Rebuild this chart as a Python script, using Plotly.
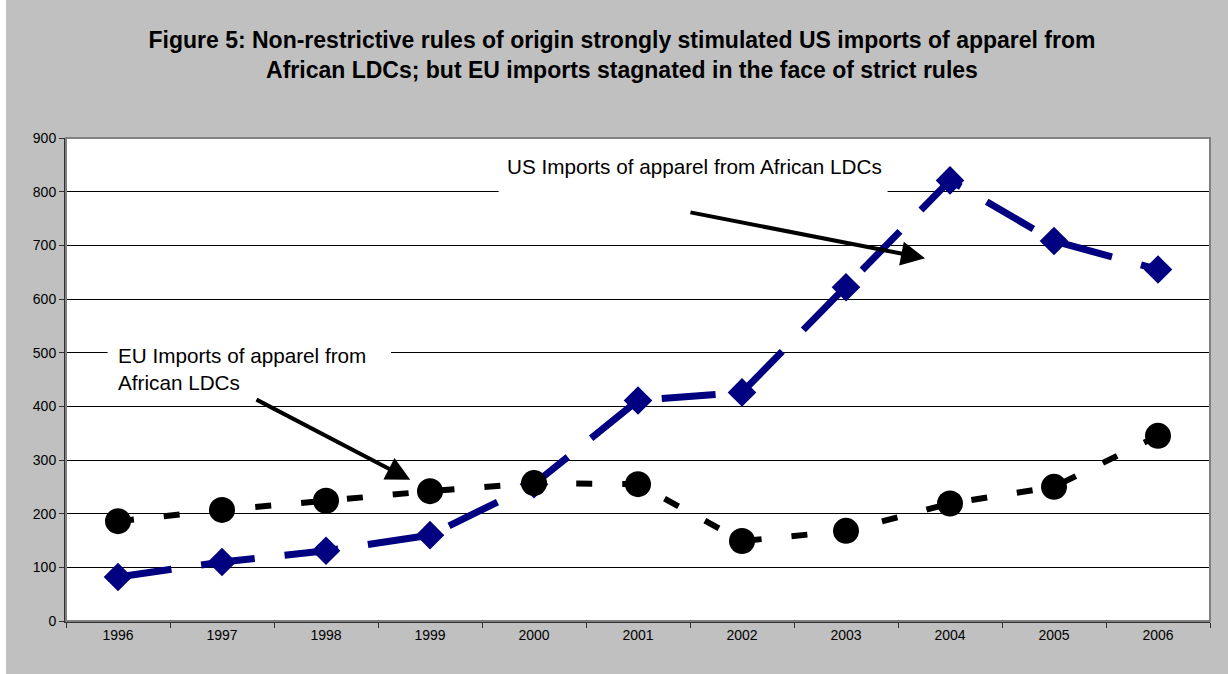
import plotly.graph_objects as go

years = ["1996", "1997", "1998", "1999", "2000", "2001", "2002", "2003", "2004", "2005", "2006"]
us_imports = [82, 110, 131, 160, 255, 411, 426, 622, 821, 708, 655]
eu_imports = [186, 207, 224, 242, 257, 255, 149, 168, 219, 250, 345]
y_ticks = [0, 100, 200, 300, 400, 500, 600, 700, 800, 900]

title_text = ("<b>Figure 5: Non-restrictive rules of origin strongly stimulated US imports of apparel from"
              "<br>African LDCs; but EU imports stagnated in the face of strict rules</b>")
us_label = "US Imports of apparel from African LDCs"
eu_label = "EU Imports of apparel from<br>African LDCs"

FONT = "Liberation Sans, Arial, sans-serif"

fig = go.Figure()
fig.add_trace(go.Scatter(
    x=years, y=us_imports, mode="lines+markers", name="US",
    line=dict(color="#000080", width=7, dash="54px,30px"),
    marker=dict(symbol="diamond", size=22, color="#000080"),
))
fig.add_trace(go.Scatter(
    x=years, y=eu_imports, mode="lines+markers", name="EU",
    line=dict(color="#000000", width=6, dash="16px,30px"),
    marker=dict(symbol="circle", size=26, color="#000000"),
))

shapes = [
    # white strip at far left of the page
    dict(type="rect", xref="paper", yref="paper", x0=-0.07, x1=-0.0524, y0=-0.2, y1=1.3,
         fillcolor="white", line=dict(width=0), layer="below"),
    # plot-area border
    dict(type="rect", xref="paper", yref="paper", x0=0, x1=1, y0=0, y1=1,
         line=dict(color="#808080", width=2), fillcolor="rgba(0,0,0,0)", layer="above"),
    # white boxes behind the labels (hide gridlines)
    dict(type="rect", xref="x", yref="y", x0=3.66, x1=7.40, y0=760, y1=890,
         fillcolor="white", line=dict(width=0), layer="between"),
    dict(type="rect", xref="x", yref="y", x0=-0.10, x1=2.625, y0=420, y1=530,
         fillcolor="white", line=dict(width=0), layer="between"),
]

annotations = [
    dict(x=3.72, y=846, xref="x", yref="y", text=us_label, showarrow=False,
         xanchor="left", yanchor="middle", font=dict(family=FONT, size=20.7, color="black")),
    dict(x=-0.02, y=469, xref="x", yref="y", text=eu_label, showarrow=False, align="left",
         xanchor="left", yanchor="middle", font=dict(family=FONT, size=20.7, color="black")),
    dict(x=7.76, y=676, xref="x", yref="y", ax=5.49, ay=762, axref="x", ayref="y",
         text="", showarrow=True, arrowhead=2, arrowsize=1.2, arrowwidth=4, arrowcolor="black"),
    dict(x=2.81, y=263, xref="x", yref="y", ax=1.317, ay=414, axref="x", ayref="y",
         text="", showarrow=True, arrowhead=2, arrowsize=1.2, arrowwidth=4, arrowcolor="black"),
]

fig.update_layout(
    width=1228, height=674,
    margin=dict(l=66, r=18, t=138, b=53),
    paper_bgcolor="#c0c0c0", plot_bgcolor="white",
    showlegend=False,
    title=dict(text=title_text, x=0.5065, xanchor="center", y=1 - 48 / 674, yanchor="middle",
               xref="container", yref="container",
               font=dict(family=FONT, size=23, color="black")),
    font=dict(family=FONT, size=14, color="black"),
    shapes=shapes, annotations=annotations,
    xaxis=dict(type="category", showgrid=False, showline=True, linecolor="#303030", linewidth=2,
               ticks="outside", tickson="boundaries", ticklen=5, tickcolor="#303030",
               tickfont=dict(family=FONT, size=14, color="black"), zeroline=False,
               range=[-0.5, 10.5]),
    yaxis=dict(range=[0, 900], tickvals=y_ticks, showgrid=True, gridcolor="#000000", gridwidth=1,
               showline=True, linecolor="#303030", linewidth=2, ticks="outside", ticklen=5,
               tickcolor="#303030", tickfont=dict(family=FONT, size=14, color="black"),
               zeroline=False),
)

fig.write_html("out.html", config={"displayModeBar": False},
               post_script="document.body.style.margin='0';document.body.style.overflow='hidden';")
